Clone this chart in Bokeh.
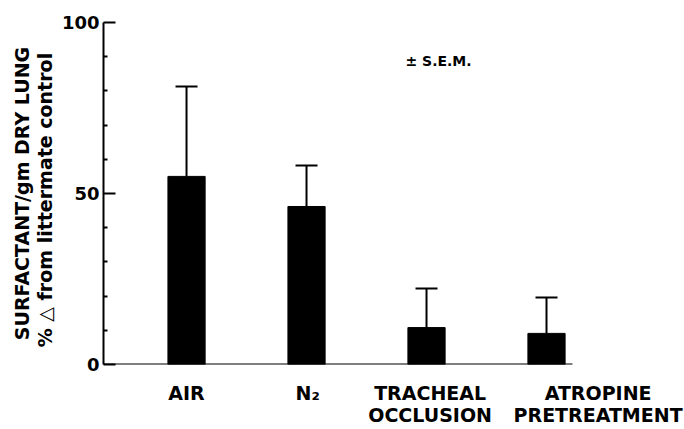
from bokeh.plotting import figure
from bokeh.models import (ColumnDataSource, FixedTicker, LinearAxis, Whisker,
                          TeeHead, Label, Range1d)
from bokeh.embed import file_html
from bokeh.resources import INLINE

# ---- data ----
categories = ["AIR", "N₂", "TRACHEAL\nOCCLUSION", "ATROPINE\nPRETREATMENT"]
means = [55.0, 46.2, 10.8, 9.1]
sems = [26.3, 12.0, 11.4, 10.5]
y_ticks = [0, 50, 100]
y_minor = [10, 20, 30, 40, 60, 70, 80, 90]

# ---- layout / style constants ----
FONT = "DejaVu Sans"
X_START, X_END = -0.692, 4.15
X_AXIS_END = 3.22
BAR_WIDTH = 0.31
LABEL_SHIFT = [0.0, 0.01, 0.03, 0.43]

xs = list(range(len(categories)))
uppers = [m + s for m, s in zip(means, sems)]
src = ColumnDataSource(dict(x=xs, top=means, upper=uppers))

p = figure(width=684, height=429, x_range=Range1d(X_START, X_END),
           y_range=Range1d(0, 100), output_backend="svg", toolbar_location=None,
           x_axis_location=None, min_border_left=103, min_border_right=0,
           min_border_top=22, min_border_bottom=65)
p.outline_line_color = None
p.grid.grid_line_color = None
p.background_fill_color = "white"
p.border_fill_color = "white"

p.vbar(x="x", top="top", width=BAR_WIDTH, bottom=0, source=src,
       fill_color="black", line_color="black")

p.add_layout(Whisker(source=src, base="x", upper="upper", lower="top",
                     upper_head=TeeHead(size=22, line_width=2, line_color="black"),
                     lower_head=None, line_width=2, line_color="black"))

# category label axis (normal below axis, no line/ticks)
label_pos = [x + s for x, s in zip(xs, LABEL_SHIFT)]
lab_axis = LinearAxis(ticker=FixedTicker(ticks=label_pos, minor_ticks=[]),
                      axis_line_color=None,
                      major_tick_line_color=None, minor_tick_line_color=None,
                      major_tick_in=0, major_tick_out=0,
                      major_label_overrides={pos: c for pos, c in zip(label_pos, categories)},
                      major_label_standoff=17,
                      major_label_text_font=FONT, major_label_text_font_style="bold",
                      major_label_text_font_size="19px", major_label_text_color="black",
                      major_label_text_line_height=1.0)
p.add_layout(lab_axis, "below")

# baseline axis (line only, fixed at y = 0)
base_axis = LinearAxis(ticker=FixedTicker(ticks=[]), bounds=(X_START, X_AXIS_END),
                       fixed_location=0, axis_line_width=2, axis_line_color="black",
                       major_tick_line_color=None, minor_tick_line_color=None,
                       major_label_text_color=None)
p.add_layout(base_axis, "below")

ya = p.yaxis[0]
ya.ticker = FixedTicker(ticks=y_ticks, minor_ticks=y_minor)
ya.axis_line_width = 2
ya.axis_line_color = "black"
ya.major_tick_in = 12
ya.major_tick_out = 0
ya.major_tick_line_width = 2
ya.minor_tick_in = 4
ya.minor_tick_out = 0
ya.minor_tick_line_width = 2
ya.major_label_standoff = 4
ya.major_label_text_font = FONT
ya.major_label_text_font_style = "bold"
ya.major_label_text_font_size = "18px"
ya.major_label_text_color = "black"
ya.axis_label = "SURFACTANT/gm DRY LUNG\n% \u25b3 from  littermate  control"
ya.axis_label_text_font = FONT
ya.axis_label_text_font_style = "bold"
ya.axis_label_text_font_size = "19px"
ya.axis_label_text_color = "black"
ya.axis_label_standoff = 3
ya.axis_label_text_line_height = 1.05

p.add_layout(Label(x=2.1, y=88.6, text="± S.E.M.", text_align="center",
                   text_baseline="middle", text_font=FONT, text_font_style="bold",
                   text_font_size="14px", text_color="black"))

open("out.html", "w").write(file_html(p, INLINE))
